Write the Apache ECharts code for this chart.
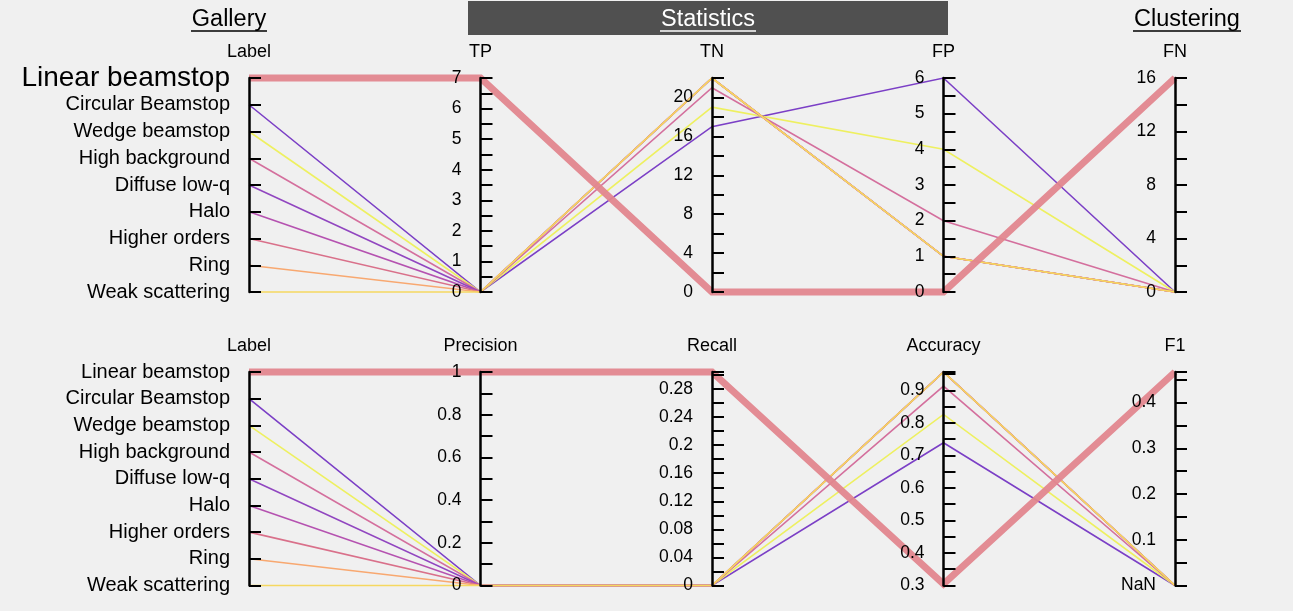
<!DOCTYPE html>
<html>
<head>
<meta charset="utf-8">
<script src="https://cdn.jsdelivr.net/npm/echarts@6/dist/echarts.min.js"></script>
<style>
	html, body { margin: 0; padding: 0; background: #f0f0f0; }
	#plot { width: 1293px; height: 611px; }
</style>
</head>
<body>
<div id="plot"></div>
<script>
const labels = ['Linear beamstop', 'Circular Beamstop', 'Wedge beamstop', 'High background',
	'Diffuse low-q', 'Halo', 'Higher orders', 'Ring', 'Weak scattering'];
const colors = ['#e2868e', '#7b3fc6', '#eef060', '#d46f9d', '#9146c0', '#b552b0', '#d9708a', '#f8a870', '#f5d860'];

// top row
const tp = [7, 0, 0, 0, 0, 0, 0, 0, 0];
const tn = [0, 17, 19, 21, 22, 22, 22, 22, 22];
const fp = [0, 6, 4, 2, 1, 1, 1, 1, 1];
const fn = [16, 0, 0, 0, 0, 0, 0, 0, 0];

// bottom row (F1 is NaN for all but the first, drawn at the bottom of the axis)
const precision = [1, 0, 0, 0, 0, 0, 0, 0, 0];
const recall = [0.3043, 0, 0, 0, 0, 0, 0, 0, 0];
const accuracy = [0.3043, 0.739, 0.826, 0.913, 0.9565, 0.9565, 0.9565, 0.9565, 0.9565];
const f1 = [0.4667, NaN, NaN, NaN, NaN, NaN, NaN, NaN, NaN];

const topNames = ['TP', 'TN', 'FP', 'FN'];
const bottomNames = ['Precision', 'Recall', 'Accuracy', 'F1'];

const FONT = 'Liberation Sans, Arial, Helvetica, sans-serif';

function onStep(v, step) {
	const r = v / step;
	return Math.abs(r - Math.round(r)) < 1e-6;
}

// labels and ticks on the left side of each vertical axis
function axisStyle(ax, nameLocation) {
	ax.nameLocation = nameLocation;
	ax.nameGap = 17;
	ax.nameTextStyle = { color: '#000', fontSize: 18, fontFamily: FONT };
	ax.axisLine = { lineStyle: { color: '#000', width: 2.5 } };
	ax.axisTick = Object.assign({ inside: true, length: 12, lineStyle: { color: '#000', width: 2 } }, ax.axisTick);
	ax.axisLabel = Object.assign({ color: '#000', fontSize: 17.5, margin: -19, align: 'right', fontFamily: FONT }, ax.axisLabel);
	return ax;
}

function valueAxis(dim, pIndex, name, min, max, tickStep, labelStep, nanAtZero) {
	return axisStyle({
		dim: dim,
		parallelIndex: pIndex,
		name: name,
		type: 'value',
		min: min,
		max: max,
		interval: tickStep,
		axisLabel: {
			formatter: v => {
				if (nanAtZero && Math.abs(v) < 1e-9) return 'NaN';
				if (!onStep(v, labelStep)) return '';
				return String(+v.toFixed(4));
			}
		}
	}, 'end');
}

function labelAxis(pIndex, big) {
	return axisStyle({
		dim: 0,
		parallelIndex: pIndex,
		name: 'Label',
		type: 'category',
		data: labels,
		inverse: true,
		boundaryGap: false,
		axisTick: { alignWithLabel: true, interval: 0 },
		axisLabel: {
			interval: 0,
			fontSize: 20,
			formatter: v => (big && v === labels[0]) ? '{big|' + v + '}' : v,
			rich: { big: { fontSize: 28, fontFamily: FONT, color: '#000' } }
		}
	}, 'start');
}

function plot() {
	const series = [];
	for (let i = 0; i < labels.length; i++) {
		const style = {
			color: colors[i],
			width: i === 0 ? 7 : 1.6,
			opacity: i === 0 ? 0.95 : 1
		};
		series.push({
			type: 'parallel',
			parallelIndex: 0,
			silent: true,
			lineStyle: style,
			z: i === 0 ? 5 : 2,
			data: [[labels[i], tp[i], tn[i], fp[i], fn[i]]]
		});
		series.push({
			type: 'parallel',
			parallelIndex: 1,
			silent: true,
			lineStyle: style,
			z: i === 0 ? 5 : 2,
			data: [[labels[i], precision[i], recall[i], accuracy[i], isNaN(f1[i]) ? 0 : f1[i]]]
		});
	}

	const option = {
		animation: false,
		backgroundColor: '#f0f0f0',
		textStyle: { fontFamily: FONT },
		parallel: [
			{ left: 249, right: 118, top: 78, height: 214 },
			{ left: 249, right: 118, top: 372, height: 213.5 }
		],
		parallelAxis: [
			labelAxis(0, true),
			valueAxis(1, 0, topNames[0], 0, 7, 0.5, 1),
			valueAxis(2, 0, topNames[1], 0, 22, 2, 4),
			valueAxis(3, 0, topNames[2], 0, 6, 0.5, 1),
			valueAxis(4, 0, topNames[3], 0, 16, 2, 4),
			labelAxis(1, false),
			valueAxis(1, 1, bottomNames[0], 0, 1, 0.1, 0.2),
			valueAxis(2, 1, bottomNames[1], 0, 0.3043, 0.02, 0.04),
			valueAxis(3, 1, bottomNames[2], 0.3, 0.9565, 0.05, 0.1),
			valueAxis(4, 1, bottomNames[3], 0, 0.4667, 0.05, 0.1, true)
		],
		graphic: [
			{ type: 'rect', shape: { x: 468, y: 1, width: 480, height: 34 }, style: { fill: '#505050' } },
			{ type: 'text', x: 708, y: 20, style: { text: 'Statistics', fill: '#fff', font: '23.5px ' + FONT, align: 'center', verticalAlign: 'middle' } },
			{ type: 'line', shape: { x1: 660, y1: 31, x2: 756, y2: 31 }, style: { stroke: '#fff', lineWidth: 1.5 } },
			{ type: 'text', x: 229, y: 20, style: { text: 'Gallery', fill: '#000', font: '23.5px ' + FONT, align: 'center', verticalAlign: 'middle' } },
			{ type: 'line', shape: { x1: 191, y1: 31, x2: 267, y2: 31 }, style: { stroke: '#000', lineWidth: 1.5 } },
			{ type: 'text', x: 1187, y: 20, style: { text: 'Clustering', fill: '#000', font: '23.5px ' + FONT, align: 'center', verticalAlign: 'middle' } },
			{ type: 'line', shape: { x1: 1133, y1: 31, x2: 1241, y2: 31 }, style: { stroke: '#000', lineWidth: 1.5 } }
		],
		series: series
	};

	const box = document.getElementById('plot');
	const chart = echarts.init(box);
	chart.setOption(option);

	window.addEventListener('resize', () => {
		chart.resize();
	});
}

window.addEventListener('load', () => {
	plot();
});
</script>
</body>
</html>
